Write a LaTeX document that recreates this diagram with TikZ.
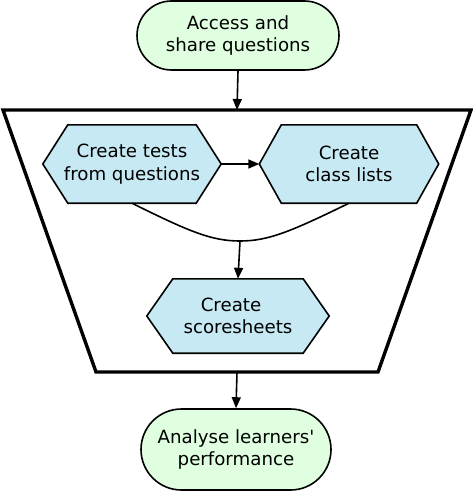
\documentclass[tikz,border=0pt]{standalone}
\usepackage{fontspec}
\setmainfont{DejaVu Sans}
\usetikzlibrary{arrows.meta,calc,backgrounds}
\definecolor{termfill}{RGB}{224,255,224}
\definecolor{procfill}{RGB}{199,233,244}
\tikzset{
  txt/.style={font=\fontsize{18.2}{22.5}\selectfont, align=center, inner sep=0pt},
  terminal/.style={txt, draw, fill=termfill, line width=1.6pt, rectangle},
  proc/.style={txt, rectangle},
  hexline/.style={draw, fill=procfill, line width=1.6pt, line join=miter},
  conn/.style={line width=1.6pt, -{Triangle[length=11pt,width=9pt]}},
  plainconn/.style={line width=1.6pt},
  frame/.style={line width=3.4pt, line join=miter},
}
\newcommand\hexagonof[2]{%
  \path[hexline] ($(#1.north west)+(#2,0)$) -- ($(#1.north east)+(-#2,0)$) -- (#1.east)
    -- ($(#1.south east)+(-#2,0)$) -- ($(#1.south west)+(#2,0)$) -- (#1.west) -- cycle;}
\begin{document}
\begin{tikzpicture}[x=1pt,y=-1pt]
\useasboundingbox (0,0) rectangle (473,492);
% terminals
\node[terminal, minimum width=202pt, minimum height=69pt, rounded corners=34.5pt] (access) at (238,35.5) {Access and\\share questions};
\node[terminal, minimum width=190pt, minimum height=81pt, rounded corners=40.5pt] (analyse) at (236,449.5) {Analyse learners\textquotesingle\\performance};
% processes
\node[proc, minimum width=178pt, minimum height=78pt] (tests) at (132,164) {Create tests\\from questions};
\node[proc, minimum width=179pt, minimum height=78pt] (class) at (349,164) {Create\\class lists};
\node[proc, minimum width=182pt, minimum height=74pt] (scores) at (238,316) {Create\hspace*{14pt}\\scoresheets};
\begin{scope}[on background layer]
  \hexagonof{tests}{25}
  \hexagonof{class}{22}
  \hexagonof{scores}{26}
\end{scope}
% frame (trapezoid)
\coordinate (tl) at (3,110);
\coordinate (tr) at (471,110);
\coordinate (br) at (378,372);
\coordinate (bl) at (96,372);
\coordinate (ftop) at (237,110);
\coordinate (fbot) at (237,372);
\draw[frame] (tl) -- (tr) -- (br) -- (bl) -- cycle;
% merge point
\coordinate (merge) at (240,241);
% connectors
\draw[conn] (access.south) -- (ftop);
\draw[conn] (tests.east) -- (class.west);
\draw[plainconn] (tests.south) .. controls (190,232) and (212,241) .. (merge)
  .. controls (268,241) and (290,232) .. (class.south);
\draw[conn] (merge) -- (scores.north);
\draw[conn] (fbot) -- (analyse.north);
\end{tikzpicture}
\end{document}
